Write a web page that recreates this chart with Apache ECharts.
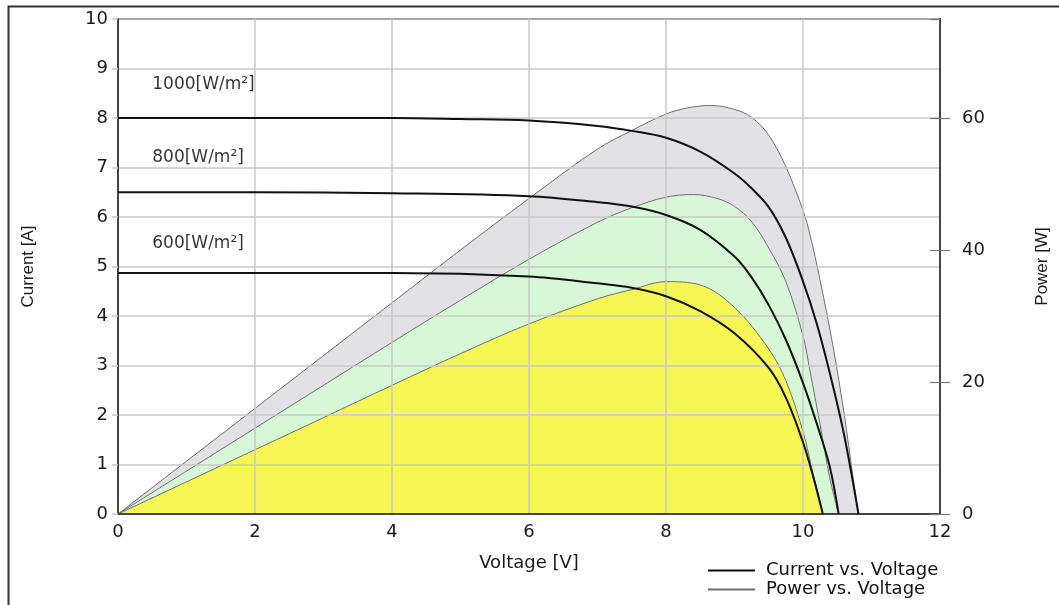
<!DOCTYPE html>
<html>
<head>
<meta charset="utf-8">
<script src="https://cdn.jsdelivr.net/npm/echarts@6/dist/echarts.min.js"></script>
<style>
html,body{margin:0;padding:0;background:#fff;}
#chart{width:1059px;height:605px;}
</style>
</head>
<body>
<div id="chart"></div>
<script>
// ---- Data ----
const xTicks = [0, 2, 4, 6, 8, 10, 12];
const leftTicks = [0,1,2,3,4,5,6,7,8,9,10];
const rightTicks = [0, 20, 40, 60];

// Current vs Voltage (I-V)
const v1000I = [0,2,4,5,6,7,7.5,8,8.5,9,9.25,9.5,9.75,10,10.2,10.4,10.6,10.81];
const i1000  = [8.0,8.0,8.0,7.98,7.95,7.84,7.74,7.6,7.32,6.88,6.58,6.2,5.58,4.7,3.85,2.8,1.6,0];
const v800I  = [0,2,4,6,7,7.5,8,8.5,9,9.25,9.5,9.75,10,10.2,10.39,10.52];
const i800   = [6.5,6.5,6.48,6.42,6.3,6.21,6.04,5.74,5.2,4.78,4.22,3.52,2.65,1.83,0.96,0];
const v600I  = [0,2,4,6,7,7.5,8,8.5,9,9.5,9.75,10,10.15,10.29];
const i600   = [4.87,4.87,4.87,4.8,4.66,4.57,4.4,4.1,3.65,2.95,2.35,1.45,0.75,0];

// Power vs Voltage (P-V)
const v1000P = [0,1,2,3,4,5,6,7,7.5,8,8.3,8.65,9,9.25,9.5,9.75,10,10.1,10.25,10.44,10.6,10.73,10.81];
const p1000  = [0,8,16,24,32,40,47.8,55.3,58.1,60.6,61.5,61.9,61.3,60.1,57.4,52.6,46,42.4,35.4,25.3,15.2,5.6,0];
const v800P  = [0,1,2,3,4,5,6,7,7.5,8,8.4,8.75,9,9.25,9.5,9.75,10,10.1,10.25,10.39,10.52];
const p800   = [0,6.5,13,19.5,26,32.4,38.6,44.2,46.4,48,48.4,47.8,46.6,44.3,40.3,35.2,27,21.8,13.5,5.5,0];
const v600P  = [0,1,2,3,4,5,6,7,7.5,8,8.5,9,9.5,9.75,10,10.15,10.29];
const p600   = [0,4.87,9.74,14.6,19.5,24.3,28.8,32.6,34,35.2,34.7,31.3,25,20.2,12.5,6,0];

// Irradiance annotation labels (x, current, text)
const irrLabels = ['1000[W/m²]', '800[W/m²]', '600[W/m²]'];
const irrX = [0.5, 0.5, 0.5];
const irrY = [8.67, 7.21, 5.47];

const seriesNames = ['Current vs. Voltage', 'Power vs. Voltage'];
// -------------------------------------

const zip = (a, b) => a.map((x, k) => [x, b[k]]);
const tickFont = 'DejaVu Sans';
const narrowFont = "'Liberation Sans', Arial, sans-serif";
const chart = echarts.init(document.getElementById('chart'), null, {renderer: 'canvas'});

const powerColors = ['#e1e1e6', '#d6f8d6', '#f6f655'];
const powerSets = [[v1000P, p1000], [v800P, p800], [v600P, p600]];
const currentSets = [[v1000I, i1000], [v800I, i800], [v600I, i600]];

const series = [];
powerSets.forEach((s, k) => {
  series.push({
    name: seriesNames[1], type: 'line', yAxisIndex: 1, z: 2,
    data: zip(s[0], s[1]), smooth: 0.35, symbol: 'none',
    itemStyle: {color: '#888'},
    lineStyle: {color: '#6f6f6f', width: 1},
    areaStyle: {color: powerColors[k], opacity: 1},
    silent: true
  });
});
currentSets.forEach((s) => {
  series.push({
    name: seriesNames[0], type: 'line', yAxisIndex: 0, z: 5,
    data: zip(s[0], s[1]), smooth: 0.35, symbol: 'none',
    itemStyle: {color: '#111'},
    lineStyle: {color: '#111', width: 2},
    silent: true
  });
});
series.push({
  type: 'scatter', yAxisIndex: 0, z: 6, symbolSize: 0, silent: true,
  itemStyle: {color: '#111'},
  data: irrLabels.map((t, k) => [irrX[k], irrY[k], t]),
  label: {show: true, position: 'right', distance: 0, formatter: p => p.value[2],
          color: '#000', fontFamily: tickFont, fontSize: 17}
});

chart.setOption({
  animation: false,
  backgroundColor: '#fff',
  graphic: [{type: 'rect', left: 6, top: 4, shape: {width: 1070, height: 620},
             style: {fill: 'none', stroke: '#333', lineWidth: 2}, silent: true}],
  grid: {left: 118, right: 119, top: 19, bottom: 91, show: true,
         borderColor: '#444', borderWidth: 2, backgroundColor: 'transparent'},
  legend: {
    orient: 'vertical', left: 707, top: 561, padding: 0, itemGap: 0, itemWidth: 47, itemHeight: 16,
    data: seriesNames, selectedMode: false,
    itemStyle: {opacity: 0},
    textStyle: {color: '#111', fontFamily: tickFont, fontSize: 18, lineHeight: 19, padding: [0,0,0,6]}
  },
  xAxis: {
    type: 'value', min: 0, max: 12, interval: 2, z: 3,
    name: 'Voltage [V]', nameLocation: 'middle', nameGap: 40,
    nameTextStyle: {color: '#1a1a1a', fontFamily: tickFont, fontSize: 18},
    axisLine: {show: true, lineStyle: {color: '#444', width: 2}},
    axisTick: {show: false},
    axisLabel: {color: '#1a1a1a', fontFamily: tickFont, fontSize: 18, margin: 9,
                formatter: v => xTicks.includes(v) ? String(v) : ''},
    splitLine: {show: true, lineStyle: {color: '#c8c8c8', width: 1.5}}
  },
  yAxis: [{
    type: 'value', min: 0, max: 10, interval: 1, position: 'left', z: 3,
    name: 'Current [A]', nameLocation: 'middle', nameGap: 81,
    nameTextStyle: {color: '#1a1a1a', fontFamily: narrowFont, fontSize: 17},
    axisLine: {show: true, lineStyle: {color: '#444', width: 2}},
    axisTick: {show: true, length: 6, lineStyle: {color: '#c8c8c8', width: 1.5}},
    axisLabel: {color: '#1a1a1a', fontFamily: tickFont, fontSize: 18, margin: 10,
                formatter: v => leftTicks.includes(v) ? String(v) : ''},
    splitLine: {show: true, lineStyle: {color: '#c8c8c8', width: 1.5}}
  }, {
    type: 'value', min: 0, max: 75, interval: 20, position: 'right', z: 3,
    name: 'Power [W]', nameLocation: 'middle', nameGap: 94,
    nameTextStyle: {color: '#1a1a1a', fontFamily: narrowFont, fontSize: 17},
    axisLine: {show: true, lineStyle: {color: '#444', width: 2}},
    axisTick: {show: true, length: 10, lineStyle: {color: '#777', width: 1.2}},
    axisLabel: {color: '#1a1a1a', fontFamily: tickFont, fontSize: 18, margin: 22, showMaxLabel: false,
                formatter: v => rightTicks.includes(v) ? String(v) : ''},
    splitLine: {show: false}
  }, {
    type: 'value', min: 0, max: 75, interval: 20, position: 'right', z: 3,
    axisLine: {show: false},
    axisTick: {show: true, inside: true, length: 10, lineStyle: {color: '#777', width: 1.2}},
    axisLabel: {show: false}, splitLine: {show: false}
  }],
  series: series
});
</script>
</body>
</html>
